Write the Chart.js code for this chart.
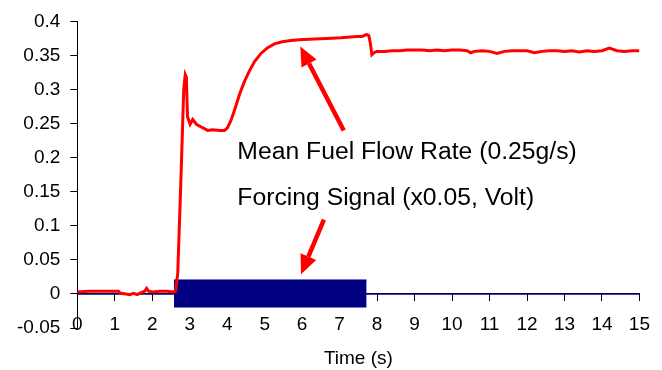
<!DOCTYPE html>
<html>
<head>
<meta charset="utf-8">
<script src="https://cdn.jsdelivr.net/npm/chart.js@4/dist/chart.umd.min.js"></script>
<style>
  html, body { margin: 0; padding: 0; background: #fff; }
  #wrap { width: 662px; height: 370px; }
</style>
</head>
<body>
<div id="wrap"><canvas id="myChart" width="662" height="370"></canvas></div>
<script>
// Mean fuel flow rate (time in s)
var fuelTime = [0, 0.3, 0.6, 0.9, 1.1, 1.15, 1.3, 1.4, 1.5, 1.6, 1.7, 1.8, 1.85, 1.9, 2.0, 2.2, 2.4, 2.55, 2.62,
    2.68, 2.76, 2.84, 2.88, 2.91, 2.94, 3.01, 3.08, 3.18, 3.34, 3.48, 3.61, 3.80, 3.93, 4.01, 4.11, 4.19, 4.33,
    4.46, 4.59, 4.73, 4.90, 5.07, 5.26, 5.47, 5.70, 5.92, 6.32, 6.66, 7.03, 7.46, 7.60, 7.72, 7.78, 7.82, 7.86,
    7.92, 7.99, 8.2, 8.4, 8.6, 8.8, 9.0, 9.2, 9.4, 9.6, 9.8, 10.0, 10.2, 10.4, 10.5, 10.6, 10.8, 11.0, 11.2,
    11.4, 11.6, 11.8, 12.0, 12.2, 12.4, 12.6, 12.8, 13.0, 13.2, 13.4, 13.6, 13.8, 14.0, 14.2, 14.4, 14.6, 14.8, 15.0];
var fuelFlow = [0.003, 0.004, 0.004, 0.004, 0.004, 0.001, 0.000, -0.001, 0.001, -0.001, 0.002, 0.004, 0.008, 0.004, 0.003, 0.004, 0.004, 0.003, 0.004,
    0.03, 0.16, 0.30, 0.322, 0.318, 0.26, 0.249, 0.256, 0.249, 0.244, 0.240, 0.241, 0.240, 0.240, 0.244, 0.256, 0.269, 0.293,
    0.312, 0.327, 0.341, 0.353, 0.361, 0.367, 0.370, 0.372, 0.373, 0.374, 0.375, 0.376, 0.378, 0.378, 0.381, 0.379, 0.368, 0.351,
    0.354, 0.356, 0.356, 0.357, 0.357, 0.358, 0.358, 0.358, 0.357, 0.358, 0.357, 0.358, 0.358, 0.357, 0.354, 0.356, 0.357, 0.356, 0.353,
    0.356, 0.357, 0.357, 0.357, 0.354, 0.356, 0.357, 0.357, 0.356, 0.357, 0.355, 0.357, 0.356, 0.357, 0.361, 0.357, 0.356, 0.357, 0.357];

// Forcing signal: dense oscillation drawn as its envelope, zero elsewhere
var forcingTime = [2.58, 7.72];
var forcingHigh = [0.0205, 0.0205];
var forcingLow = -0.02;
var baseTime = [0, 15];
var baseValue = [0, 0];

// axes
var xMin = 0, xMax = 15, xStep = 1;
var yMin = -0.05, yMax = 0.4, yStep = 0.05;

function pts(xs, ys) {
    return xs.map(function (x, i) { return { x: x, y: ys[i] }; });
}

// texts and arrows in data units
var notes = [
    { text: 'Mean Fuel Flow Rate (0.25g/s)', x: 4.27, y: 0.208 },
    { text: 'Forcing Signal (x0.05, Volt)', x: 4.27, y: 0.140 }
];
var arrows = [
    { from: [7.11, 0.240], to: [5.95, 0.363] },
    { from: [6.58, 0.109], to: [5.97, 0.029] }
];

var notesPlugin = {
    id: 'notes',
    afterDatasetsDraw: function (chart) {
        var ctx = chart.ctx, xs = chart.scales.x, ys = chart.scales.y;
        ctx.save();
        ctx.fillStyle = '#000';
        ctx.font = '23px "Liberation Sans", Arial, sans-serif';
        ctx.textBaseline = 'middle';
        ctx.textAlign = 'left';
        notes.forEach(function (n) {
            ctx.save();
            ctx.translate(xs.getPixelForValue(n.x), ys.getPixelForValue(n.y));
            ctx.scale(1.075, 1);
            ctx.fillText(n.text, 0, 0);
            ctx.restore();
        });
        // arrows
        ctx.strokeStyle = '#ff0000';
        ctx.fillStyle = '#ff0000';
        ctx.lineWidth = 4.5;
        arrows.forEach(function (a) {
            var x1 = xs.getPixelForValue(a.from[0]), y1 = ys.getPixelForValue(a.from[1]);
            var x2 = xs.getPixelForValue(a.to[0]), y2 = ys.getPixelForValue(a.to[1]);
            var ang = Math.atan2(y2 - y1, x2 - x1);
            var len = 19, half = 8.5;
            var bx = x2 - len * Math.cos(ang), by = y2 - len * Math.sin(ang);
            ctx.beginPath();
            ctx.moveTo(x1, y1);
            ctx.lineTo(bx, by);
            ctx.stroke();
            ctx.beginPath();
            ctx.moveTo(x2, y2);
            ctx.lineTo(bx + half * Math.sin(ang), by - half * Math.cos(ang));
            ctx.lineTo(bx - half * Math.sin(ang), by + half * Math.cos(ang));
            ctx.closePath();
            ctx.fill();
        });
        ctx.restore();
    }
};

var tickFont = { family: '"Liberation Sans", Arial, sans-serif', size: 19 };

var ctx = document.getElementById('myChart').getContext('2d');
var myChart = new Chart(ctx, {
    type: 'line',
    data: {
        datasets: [{
            label: 'Mean Fuel Flow Rate',
            data: pts(fuelTime, fuelFlow),
            borderColor: '#ff0000',
            borderWidth: 3,
            pointRadius: 0,
            tension: 0,
            fill: false
        }, {
            label: 'Forcing Signal',
            data: pts(forcingTime, forcingHigh),
            borderColor: '#000080',
            backgroundColor: '#000080',
            borderWidth: 1,
            pointRadius: 0,
            fill: { value: forcingLow }
        }, {
            label: 'Forcing Signal (off)',
            data: pts(baseTime, baseValue),
            borderColor: '#000080',
            borderWidth: 1.5,
            pointRadius: 0,
            fill: false
        }]
    },
    options: {
        responsive: false,
        animation: false,
        devicePixelRatio: 1,
        layout: { padding: { left: 7, right: 20, top: 16, bottom: 42 } },
        plugins: { legend: { display: false }, tooltip: { enabled: false } },
        scales: {
            x: {
                type: 'linear',
                position: { y: 0 },
                min: xMin, max: xMax,
                grid: { drawOnChartArea: false, drawTicks: true, tickLength: 7, color: '#000' },
                border: { color: '#000', width: 1 },
                ticks: { stepSize: xStep, color: '#000', font: tickFont, padding: 12, maxRotation: 0 },
                title: { display: true, text: 'Time (s)', color: '#000', font: { family: '"Liberation Sans", Arial, sans-serif', size: 19 }, padding: { top: 0 } }
            },
            y: {
                type: 'linear',
                position: 'left',
                min: yMin, max: yMax,
                grid: { drawOnChartArea: false, drawTicks: true, tickLength: 7, color: '#000' },
                border: { color: '#000', width: 1 },
                ticks: {
                    stepSize: yStep, color: '#000', font: tickFont, padding: 10,
                    callback: function (value) { return String(Math.round(value * 100) / 100); }
                }
            }
        }
    },
    plugins: [notesPlugin]
});
</script>
</body>
</html>
